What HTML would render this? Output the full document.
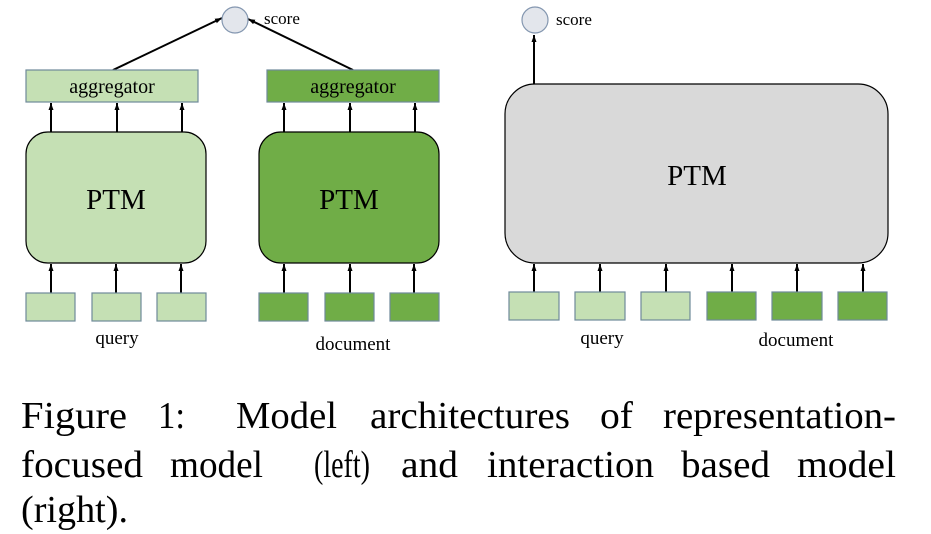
<!DOCTYPE html>
<html><head><meta charset="utf-8"><style>
html,body{margin:0;padding:0;background:#fff;width:931px;height:534px;overflow:hidden}
svg{display:block}
text{font-family:"Liberation Serif",serif;fill:#000}
</style></head><body>
<svg width="931" height="534" viewBox="0 0 931 534" xmlns="http://www.w3.org/2000/svg">
<defs>
<marker id="a" markerWidth="8" markerHeight="8" refX="7" refY="4" orient="auto" markerUnits="userSpaceOnUse">
<path d="M0,1.5 L7,4 L0,6.5 z" fill="#000"/></marker>
</defs>
<g stroke="#000" stroke-width="2" fill="none" marker-end="url(#a)">
<line x1="113" y1="70" x2="222" y2="18"/>
<line x1="353" y1="70" x2="248" y2="19"/>
<line x1="51" y1="132" x2="51" y2="103"/><line x1="117" y1="132" x2="117" y2="103"/><line x1="182" y1="132" x2="182" y2="103"/>
<line x1="284" y1="132" x2="284" y2="103"/><line x1="350" y1="132" x2="350" y2="103"/><line x1="415" y1="132" x2="415" y2="103"/>
<line x1="51" y1="293" x2="51" y2="264"/><line x1="116" y1="293" x2="116" y2="264"/><line x1="181" y1="293" x2="181" y2="264"/>
<line x1="284" y1="293" x2="284" y2="264"/><line x1="350" y1="293" x2="350" y2="264"/><line x1="414" y1="293" x2="414" y2="264"/>
<line x1="534" y1="84" x2="534" y2="35"/>
<line x1="534" y1="292" x2="534" y2="264"/><line x1="600" y1="292" x2="600" y2="264"/><line x1="666" y1="292" x2="666" y2="264"/>
<line x1="732" y1="292" x2="732" y2="264"/><line x1="797" y1="292" x2="797" y2="264"/><line x1="863" y1="292" x2="863" y2="264"/>
</g>
<circle cx="235" cy="20" r="13" fill="#e3e6ec" stroke="#8497b0" stroke-width="1.2"/>
<circle cx="535" cy="20" r="13" fill="#e3e6ec" stroke="#8497b0" stroke-width="1.2"/>
<text x="264" y="24" font-size="17">score</text>
<text x="556" y="25" font-size="17">score</text>
<rect x="26" y="70" width="172" height="32" fill="#c5e0b4" stroke="#6f8a9a" stroke-width="1.2"/>
<rect x="267" y="70" width="172" height="32" fill="#70ad47" stroke="#6f8a9a" stroke-width="1.2"/>
<text x="112" y="93" font-size="20" text-anchor="middle">aggregator</text>
<text x="353" y="93" font-size="20" text-anchor="middle">aggregator</text>
<rect x="26" y="132" width="180" height="131" rx="22" fill="#c5e0b4" stroke="#000" stroke-width="1.2"/>
<rect x="259" y="132" width="180" height="131" rx="22" fill="#70ad47" stroke="#000" stroke-width="1.2"/>
<text x="116" y="209" font-size="29" text-anchor="middle">PTM</text>
<text x="349" y="209" font-size="29" text-anchor="middle">PTM</text>
<rect x="505" y="84" width="383" height="179" rx="30" fill="#d9d9d9" stroke="#000" stroke-width="1.2"/>
<text x="697" y="185" font-size="29" text-anchor="middle">PTM</text>
<g stroke="#6f8a9a" stroke-width="1.2">
<rect x="26" y="293" width="49" height="28" fill="#c5e0b4"/><rect x="92" y="293" width="49" height="28" fill="#c5e0b4"/><rect x="157" y="293" width="49" height="28" fill="#c5e0b4"/>
<rect x="259" y="293" width="49" height="28" fill="#70ad47"/><rect x="325" y="293" width="49" height="28" fill="#70ad47"/><rect x="390" y="293" width="49" height="28" fill="#70ad47"/>
<rect x="509" y="292" width="50" height="28" fill="#c5e0b4"/><rect x="575" y="292" width="50" height="28" fill="#c5e0b4"/><rect x="641" y="292" width="49" height="28" fill="#c5e0b4"/>
<rect x="707" y="292" width="49" height="28" fill="#70ad47"/><rect x="772" y="292" width="50" height="28" fill="#70ad47"/><rect x="838" y="292" width="49" height="28" fill="#70ad47"/>
</g>
<text x="117" y="344" font-size="19" text-anchor="middle">query</text>
<text x="353" y="350" font-size="19" text-anchor="middle">document</text>
<text x="602" y="344" font-size="19" text-anchor="middle">query</text>
<text x="796" y="346" font-size="19" text-anchor="middle">document</text>
<g font-size="38">
<text x="21" y="428" textLength="106" lengthAdjust="spacingAndGlyphs">Figure</text>
<text x="158" y="428" textLength="27" lengthAdjust="spacingAndGlyphs">1:</text>
<text x="236" y="428" textLength="101" lengthAdjust="spacingAndGlyphs">Model</text>
<text x="370" y="428" textLength="200" lengthAdjust="spacingAndGlyphs">architectures</text>
<text x="600" y="428" textLength="33" lengthAdjust="spacingAndGlyphs">of</text>
<text x="663" y="428" textLength="233" lengthAdjust="spacingAndGlyphs">representation-</text>
<text x="21" y="477" textLength="122" lengthAdjust="spacingAndGlyphs">focused</text>
<text x="170" y="477" textLength="93" lengthAdjust="spacingAndGlyphs">model</text>
<text x="314" y="477" textLength="56" lengthAdjust="spacingAndGlyphs">(left)</text>
<text x="401" y="477" textLength="57" lengthAdjust="spacingAndGlyphs">and</text>
<text x="487" y="477" textLength="167" lengthAdjust="spacingAndGlyphs">interaction</text>
<text x="681" y="477" textLength="89" lengthAdjust="spacingAndGlyphs">based</text>
<text x="797" y="477" textLength="99" lengthAdjust="spacingAndGlyphs">model</text>
<text x="21" y="522" textLength="107" lengthAdjust="spacingAndGlyphs">(right).</text>
</g>
</svg>
</body></html>
